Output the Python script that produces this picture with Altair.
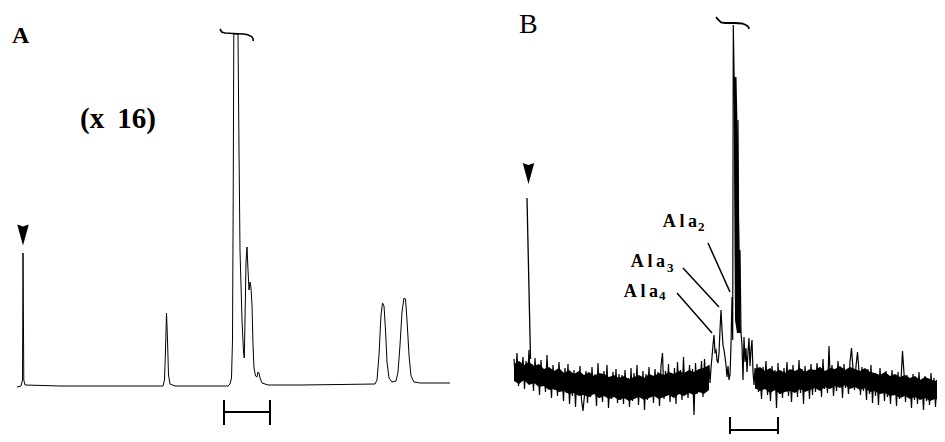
import altair as alt
import pandas as pd

# ---------------- Panel A (x16 chromatogram) : retention (a.u.) / response (a.u.)
a_time = [9, 13, 14.5, 15, 15.8, 17, 52, 92, 137, 155, 156.5, 157.5, 158.5, 159.5, 160.5, 162,
          167, 192, 220, 222, 223.5, 224.5, 225.2, 225.8, 230, 231, 232, 234, 235.5, 236.3, 237,
          238, 239, 240, 241, 242, 243, 244, 245, 246, 247.5, 249, 250, 251, 252, 254, 260, 292,
          332, 367, 369, 371, 373, 374.5, 376, 377.5, 379, 381, 384, 388, 390, 392, 394, 396,
          397.5, 399, 401, 403, 406, 412, 442]
a_signal = [-1, 0, 6, 133, 6, 1, 0, 0, 0, 0, 6, 36, 73, 46, 11, 2,
            0, 0, 0, 2, 8, 46, 186, 352, 352, 236, 136, 66, 34, 28, 66,
            124, 139, 116, 96, 104, 98, 81, 41, 18, 10, 9, 14, 13, 8, 3, 1, 1,
            1.5, 2, 6, 31, 71, 83, 80, 56, 24, 8, 4, 5, 14, 41, 74, 88,
            87, 66, 31, 10, 4, 3, 3]
a_cap_time = [212, 213.7, 217, 225, 235, 239, 243.7, 245, 245.3]
a_cap_signal = [357, 354, 353, 352.5, 352, 351.5, 349.5, 347, 345]
a_bar_time = [216, 262]
a_bar_level = [-26, -14, -39]
a_arrow = (15, 151)

# ---------------- Panel B (HPLC trace with Ala oligomers)
b_left_signal = [18, -4, 24, -9, 15, 3, 20, -12, 16, -2, 27, -7, 13, -14, 19, -6,
                 10, -18, 17, -8, 6, -15, 22, -11, 9, -21, 12, -13, 4, -19, 15, -10,
                 3, -24, 9, -16, 13, -27, 1, -19, 7, -30, 4, -15, 11, -23, -34, -18, 6, -26, 2, -20,
                 10, -17, 3, -29, 14, -21, -2, -25, 6, -16, 12, -31, 0, -22, 5, -18, 8, -26, 3, -23,
                 2, -27, 7, -19, -1, -30, 9, -24, 4, -21, 12, -28, 1, -17, 6, -33, 3, -23, 10, -20,
                 -1, -26, 8, -18, 5, -29, 11,
                 24, -22, 6, -16, 13, -25, 4, -19, 9, -27, 15, -14, 7, -23, 20, -18, 5, -21, 12, -15,
                 8, -38, 14, -17, 6, -12, 16, -20, 18, -6]
b_left_start, b_step = 51, 1.5
b_mid_time = [245, 246, 247, 248, 249, 250, 251, 252, 253, 254, 255, 256, 257, 258, 259, 260,
              261, 262, 263, 264, 265, 266, 267, 268, 269, 269.7, 270.3, 271.5, 273, 275, 276,
              277, 278, 279, 280, 281, 282, 283, 284, 285, 286, 287, 288, 289, 290, 291, 292, 293]
b_mid_signal = [-3, 12, -6, 9, 20, 32, 42, 25, 27, 17, 14, 24, 47, 67, 47, 32,
                27, 20, 12, 0, 11, -3, 2, 32, 80, 37, 352, 277, 97, 257, 77,
                127, 44, 32, -3, 40, 15, 29, 5, 25, 39, 11, 27, 37, 5, -8, 9, -12]
b_right_signal = [13, -15, 5, -22, 10, -9, 16, -18, 4, -24, 11, -14, 7, -31, 14, -17, 2, -21, 9, -12,
                  15, -19, 6, -25, 12, -13, 3, -20, 17, -16, 8, -27, 11, -11, 4, -22, 13, -18, 7, -15,
                  14, -9, 10, -20, 18, -12, 6, -16, 31, -10, 12, -19, 5, -14, 16, -8, 9, -21, 13, -11,
                  3, -17, 15, 29, 8, -13, 11, 25, 6, -18,
                  10, -14, 2, -23, 8, -17, 12, -26, 4, -19, -1, -28, 9, -15, 3, -24, 6, -20, -2, -27,
                  7, -16, 1, -29, 5, -22, -3, 26, 4, -25,
                  2, -18, -5, -31, 3, -23, -2, -27, 5, -20, -4, -33, 1, -24, -6, -28, 4, -21, -1, -30,
                  -3, -25, 6, -29, -2, -23]
b_right_start = 294
# solid core of the noisy baseline (lower / upper edge)
b_core_left_time = list(range(51, 250, 5))
b_core_left_hi = [13, 16, 12, 15, 11, 13, 8, 10, 6, 9, 4, 7, 3, 6, 2, 5, 1, 4, 3, 0,
                  2, -1, 1, -2, 0, 2, -1, 3, 1, 4, 2, 5, 3, 6, 4, 7, 5, 8, 9, 12]
b_core_left_lo = [-4, -7, -3, -8, -6, -10, -9, -13, -12, -15, -14, -17, -16, -19, -18, -20, -17, -21, -19, -22,
                  -20, -23, -21, -24, -22, -20, -23, -21, -19, -22, -20, -18, -21, -17, -19, -16, -18, -15, -17, -13]
b_core_right_time = list(range(292, 478, 5))
b_core_right_hi = [8, 10, 6, 9, 5, 7, 4, 8, 6, 9, 5, 8, 7, 10, 6, 9, 8, 11, 7, 10,
                   8, 6, 9, 5, 4, 2, 5, 1, 3, 0, 2, -1, 1, -3, 0, -2, -4, -1]
b_core_right_lo = [-11, -14, -12, -16, -13, -17, -15, -14, -16, -12, -15, -13, -11, -14, -10, -12, -9, -11, -8, -12,
                   -10, -13, -11, -15, -14, -17, -16, -19, -18, -21, -19, -22, -20, -23, -21, -24, -22, -23]
b_band_signal = [300, 227, 127, 57, 44]
b_band_left = [270.5, 271, 271.5, 272, 274]
b_band_right = [273.5, 275, 276.5, 277.5, 278]
b_spike_time = [64, 67.5]
b_spike_signal = [179, 18]
b_cap_time = [253, 255, 258, 262, 272, 279, 283, 285.5, 286]
b_cap_signal = [360, 357.5, 354.5, 354, 354, 353.5, 352, 350, 348]
b_bar_time = [267, 315]
b_bar_level = [-53, -40, -65]
b_arrow = (65.5, 203.5)
b_labels = ["A\u2009l\u2009a", "A\u2009l\u2009a", "A\u2009l\u2009a"]
b_subs = ["2", "3", "4"]
b_label_time = [234, 202, 195]
b_label_signal = [150, 110, 80]
b_sub_time = [235, 204, 196]
b_sub_signal = [146, 105, 77]
b_lead_from = [(245, 134), (220, 109), (214, 84)]
b_lead_to = [(267, 85), (256, 70), (249, 44)]

# ---------------- helpers
H = 426
XA, YA = [0, 455], [-48, 378]
XB, YB = [0, 474], [-57, 369]
SERIF = "Liberation Serif"
ARROW = "M-0.55,-1L0,-0.8L0.55,-1L0,1Z"


def ex(dom):
    return alt.X("x:Q", scale=alt.Scale(domain=dom), axis=None)


def ey(dom):
    return alt.Y("y:Q", scale=alt.Scale(domain=dom), axis=None)


def line(df, dx, dy, w):
    return alt.Chart(df).mark_line(color="black", strokeWidth=w, clip=True).encode(
        x=ex(dx), y=ey(dy), order="i:Q")


def seq(xs, ys):
    return pd.DataFrame({"x": xs, "y": ys, "i": list(range(len(xs)))})


def core(xs, lo, hi, dx, dy):
    df = pd.DataFrame({"x": xs, "y": lo, "y2": hi})
    return alt.Chart(df).mark_area(color="black", opacity=1, clip=True).encode(
        x=ex(dx), y=ey(dy), y2="y2:Q")


def bar(times, levels, dx, dy):
    lo, hi = times
    lvl, top, bot = levels
    df = pd.DataFrame({"x": [lo, lo, hi], "x2": [hi, lo, hi],
                       "y": [lvl, top, top], "y2": [lvl, bot, bot]})
    return alt.Chart(df).mark_rule(color="black", strokeWidth=2, clip=True).encode(
        x=ex(dx), x2="x2:Q", y=ey(dy), y2="y2:Q")


def arrow(pt, dx, dy):
    df = pd.DataFrame({"x": [pt[0]], "y": [pt[1]]})
    return alt.Chart(df).mark_point(shape=ARROW, filled=True, size=441, color="black",
                                    opacity=1).encode(x=ex(dx), y=ey(dy))


def text(xs, ys, labels, dx, dy, size, weight, align="left"):
    df = pd.DataFrame({"x": xs, "y": ys, "t": labels})
    return alt.Chart(df).mark_text(font=SERIF, fontSize=size, fontWeight=weight, align=align,
                                   baseline="alphabetic", color="black").encode(
        x=ex(dx), y=ey(dy), text="t:N")


# ---------------- Panel A
panel_a = alt.layer(
    line(seq(a_time, a_signal), XA, YA, 1.0),
    line(seq(a_cap_time, a_cap_signal), XA, YA, 1.6),
    bar(a_bar_time, a_bar_level, XA, YA),
    arrow(a_arrow, XA, YA),
    text([4], [343], ["A"], XA, YA, 24, "bold"),
    text([72], [258], ["(x\u2009 16)"], XA, YA, 29, "bold"),
).properties(width=XA[1], height=H)

# ---------------- Panel B
b_time = ([b_left_start + b_step * k for k in range(len(b_left_signal))] + b_mid_time
          + [b_right_start + b_step * k for k in range(len(b_right_signal))])
b_signal = b_left_signal + b_mid_signal + b_right_signal

band = alt.Chart(pd.DataFrame({"y": b_band_signal, "x": b_band_left, "x2": b_band_right})).mark_area(
    orient="horizontal", color="black").encode(y=ey(YB), x=ex(XB), x2="x2:Q")

leads = alt.Chart(pd.DataFrame({
    "x": [p[0] for p in b_lead_from], "y": [p[1] for p in b_lead_from],
    "x2": [p[0] for p in b_lead_to], "y2": [p[1] for p in b_lead_to]})).mark_rule(
    color="black", strokeWidth=1.5).encode(x=ex(XB), y=ey(YB), x2="x2:Q", y2="y2:Q")

panel_b = alt.layer(
    core(b_core_left_time, b_core_left_lo, b_core_left_hi, XB, YB),
    core(b_core_right_time, b_core_right_lo, b_core_right_hi, XB, YB),
    line(seq(b_time, b_signal), XB, YB, 1.2),
    band,
    line(seq(b_spike_time, b_spike_signal), XB, YB, 1.3),
    line(seq(b_cap_time, b_cap_signal), XB, YB, 1.8),
    leads,
    bar(b_bar_time, b_bar_level, XB, YB),
    arrow(b_arrow, XB, YB),
    text([56], [344], ["B"], XB, YB, 28, "normal"),
    text(b_label_time, b_label_signal, b_labels, XB, YB, 18, "bold", align="right"),
    text(b_sub_time, b_sub_signal, b_subs, XB, YB, 13, "bold"),
).properties(width=XB[1], height=H)

chart = alt.hconcat(panel_a, panel_b, spacing=0, bounds="flush").properties(
    padding=0).configure_view(stroke=None)

chart.save("out.html", embed_options={"renderer": "svg", "actions": False})
